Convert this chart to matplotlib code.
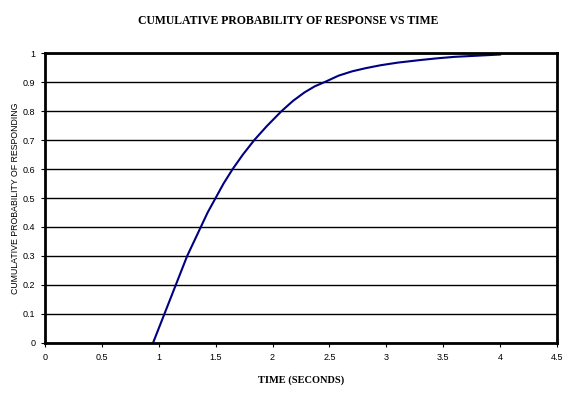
import matplotlib.pyplot as plt

# tiempo (s) y probabilidad acumulada
tiempo = [0.95, 1.0, 1.05, 1.1, 1.15, 1.2, 1.25, 1.31, 1.37, 1.43, 1.5, 1.57, 1.65, 1.74, 1.84,
          1.95, 2.08, 2.18, 2.28, 2.37, 2.47, 2.58, 2.7, 2.82, 2.95, 3.1, 3.3, 3.45, 3.6, 3.8, 4.0]
prob = [0.0, 0.05, 0.1, 0.15, 0.2, 0.25, 0.3, 0.35, 0.4, 0.45, 0.5, 0.55, 0.6, 0.65, 0.7,
        0.748, 0.8, 0.835, 0.864, 0.885, 0.902, 0.922, 0.937, 0.948, 0.958, 0.967, 0.976, 0.982, 0.987, 0.991, 0.995]

x_ticks = [0, 0.5, 1, 1.5, 2, 2.5, 3, 3.5, 4, 4.5]
x_labels = ['0', '0.5', '1', '1.5', '2', '2.5', '3', '3.5', '4', '4.5']
y_ticks = [0, 0.1, 0.2, 0.3, 0.4, 0.5, 0.6, 0.7, 0.8, 0.9, 1]
y_labels = ['0', '0.1', '0.2', '0.3', '0.4', '0.5', '0.6', '0.7', '0.8', '0.9', '1']

fig = plt.figure(figsize=(5.76, 3.96), dpi=100)
ax = fig.add_axes([0.078, 0.134, 0.889, 0.732])

ax.plot(tiempo, prob, color='#000080', linewidth=1.5)

ax.set_xlim(0, 4.5)
ax.set_ylim(0, 1)
ax.set_xticks(x_ticks)
ax.set_xticklabels(x_labels, family='Liberation Sans')
ax.set_yticks(y_ticks)
ax.set_yticklabels(y_labels, family='Liberation Sans')
ax.tick_params(labelsize=6.5, length=3, width=0.8, direction='out', pad=4)
ax.yaxis.grid(True, color='black', linewidth=1)
ax.set_axisbelow(True)
for s in ax.spines.values():
    s.set_linewidth(2)

ax.set_xlabel('TIME (SECONDS)', family='Liberation Serif', fontweight='bold', fontsize=7.5, labelpad=10)
ax.set_ylabel('CUMULATIVE PROBABILITY OF RESPONDING', family='Liberation Sans', fontsize=6.3)
ax.yaxis.set_label_coords(-0.048, 0.5)
fig.text(0.5, 0.948, 'CUMULATIVE PROBABILITY OF RESPONSE VS TIME', ha='center', va='center',
         family='Liberation Serif', fontweight='bold', fontsize=8.5)

fig.savefig('out.png', dpi=100)
